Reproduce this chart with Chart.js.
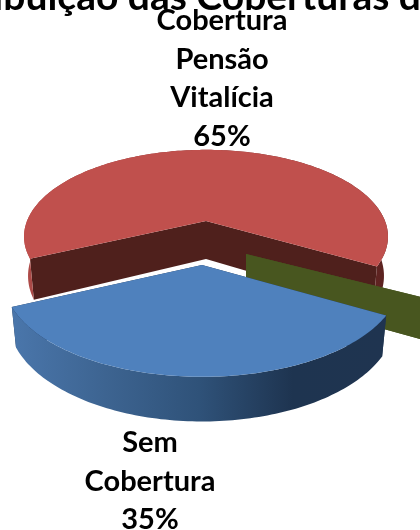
<!DOCTYPE html>
<html>
<head>
<meta charset="utf-8">
<title>Distribuição das Coberturas</title>
<script src="https://cdn.jsdelivr.net/npm/chart.js@4/dist/chart.umd.js"></script>
<style>
    html, body { margin: 0; padding: 0; background: #fff; overflow: hidden; }
    canvas { display: block; }
</style>
</head>
<body>
<canvas id="chart" width="420" height="530"></canvas>
<script>
// Data
const categories = ["Sem Cobertura", "Cobertura Pensão Vitalícia", "Outras Coberturas"];
const seriesValues = [35, 65, 0];
const labelLines = [["Sem", "Cobertura"], ["Cobertura", "Pensão", "Vitalícia"], []];
const chartTitle = "Distribuição das Coberturas d";

// Colours per slice: top face, cut face, outer wall stops
const topColors = ["#4f81bd", "#c0504d", "#9bbb59"];
const cutColors = ["#1f3450", "#4f201c", "#48561f"];
const wallStops = [
    [[0, "#4a76ab"], [0.25, "#3d6491"], [0.5, "#2f5279"], [0.75, "#1e3450"], [1, "#1f3450"]],
    [[0, "#b24d4a"], [0.05, "#a04441"], [0.9, "#6a2825"], [1, "#5a2220"]],
    [[0, "#48561f"], [1, "#48561f"]]
];

// Screen position of each slice apex (explosion), its size on screen and perspective
const sliceViews = [
    { ox: 202, oy: 265, f: 196, g: 95, k: 0.15, depth: 38 },
    { ox: 206, oy: 221, f: 179, g: 84, k: 0.18, depth: 38 },
    { ox: 246, oy: 254, f: 200, g: 87, k: 0.224, depth: 37 }
];
const drawOrder = [1, 2, 0];
const shrink = 0.978;

// circle point -> screen, with simple perspective
function project(view, angle, radius, lower) {
    const c = Math.cos(angle) * radius;
    const s = Math.sin(angle) * radius;
    const w = 1 - view.k * s;
    let x = view.f * c / w;
    let y = view.g * s / w;
    if (lower) {
        x *= shrink;
        y += view.depth / w;
    }
    return [view.ox + x, view.oy + y];
}

function rimPoints(view, start, end, lower) {
    const pts = [];
    const steps = Math.max(1, Math.ceil((end - start) / 0.02));
    for (let i = 0; i <= steps; i++) {
        pts.push(project(view, start + (end - start) * i / steps, 1, lower));
    }
    return pts;
}

function fillPoly(ctx, pts, fill) {
    ctx.beginPath();
    pts.forEach((p, i) => i ? ctx.lineTo(p[0], p[1]) : ctx.moveTo(p[0], p[1]));
    ctx.closePath();
    ctx.fillStyle = fill;
    ctx.fill();
}

function drawSlice(ctx, el, i) {
    const view = sliceViews[i];
    const start = el.startAngle;
    const end = el.endAngle;
    const top = rimPoints(view, start, end, false);
    const bottom = rimPoints(view, start, end, true);
    const apex = project(view, 0, 0, false);
    const apexLow = project(view, 0, 0, true);

    // cut faces
    [0, top.length - 1].forEach(n => {
        fillPoly(ctx, [apex, top[n], bottom[n], apexLow], cutColors[i]);
    });

    if (end - start < 0.001) return;

    // outer wall
    const xs = top.concat(bottom).map(p => p[0]);
    const grad = ctx.createLinearGradient(Math.min(...xs), 0, Math.max(...xs), 0);
    wallStops[i].forEach(s => grad.addColorStop(s[0], s[1]));
    fillPoly(ctx, top.concat(bottom.slice().reverse()), grad);

    // top face
    fillPoly(ctx, [apex].concat(top), topColors[i]);
}

const pie3d = {
    id: "pie3d",
    beforeDraw(chart) {
        const ctx = chart.ctx;
        ctx.fillStyle = "#fff";
        ctx.fillRect(0, 0, chart.width, chart.height);
    },
    beforeDatasetDraw(chart, args) {
        const ctx = chart.ctx;
        const meta = args.meta;
        drawOrder.forEach(i => drawSlice(ctx, meta.data[i], i));
        return false;
    },
    afterDraw(chart) {
        const ctx = chart.ctx;
        ctx.fillStyle = "#000";
        ctx.textBaseline = "alphabetic";
        ctx.textAlign = "right";
        ctx.font = "bold 39px Lato";
        ctx.fillText(chartTitle, 421, 10);

        ctx.textAlign = "center";
        ctx.font = "bold 29px Lato";
        const total = seriesValues.reduce((a, b) => a + b, 0);
        const spots = [[222, 30], [150, 452]];
        [1, 0].forEach((i, s) => {
            const lines = labelLines[i].concat(Math.round(seriesValues[i] / total * 100) + "%");
            lines.forEach((line, n) => ctx.fillText(line, spots[s][0], spots[s][1] + n * 38.5));
        });
    }
};

new Chart(document.getElementById("chart"), {
    type: "pie",
    data: {
        labels: categories,
        datasets: [{ data: seriesValues, backgroundColor: topColors, borderWidth: 0 }]
    },
    options: {
        responsive: false,
        animation: false,
        rotation: 119.5,
        plugins: {
            legend: { display: false },
            title: { display: false },
            tooltip: { enabled: false }
        }
    },
    plugins: [pie3d]
});
</script>
</body>
</html>
